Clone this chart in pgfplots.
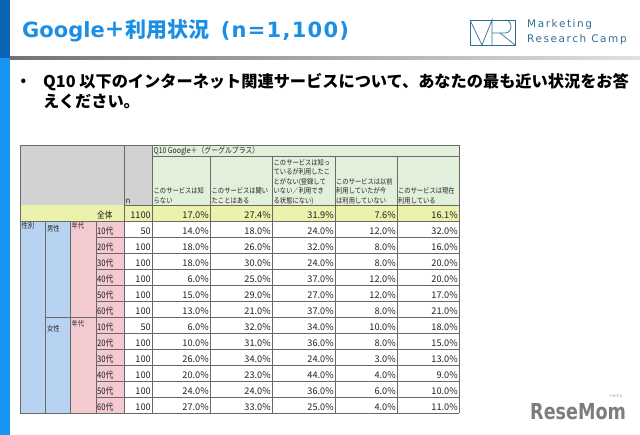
\documentclass[border=0pt]{standalone}
\usepackage{fontspec}
\usepackage{pgfplots}
\usepackage{pgfplotstable}
\pgfplotsset{compat=1.18}

\setmainfont{Noto Sans CJK JP}
\newfontfamily\dv{DejaVu Sans}
\newfontfamily\dvw[LetterSpace=6]{DejaVu Sans}
\newfontfamily\hdr[FakeStretch=0.86]{Noto Sans CJK JP}
\newfontfamily\lbl[FakeStretch=0.85]{Noto Sans CJK JP}
\newfontfamily\logofont[LetterSpace=15]{DejaVu Sans}
\newfontfamily\momfont[FakeStretch=0.8]{DejaVu Sans}

\definecolor{titleblue}{RGB}{28,143,228}
\definecolor{bardark}{RGB}{12,100,182}
\definecolor{barlight}{RGB}{22,150,242}
\definecolor{hdrgray}{RGB}{210,210,210}
\definecolor{hdrgreen}{RGB}{226,239,218}
\definecolor{totyellow}{RGB}{236,241,172}
\definecolor{sexblue}{RGB}{184,211,241}
\definecolor{agepink}{RGB}{242,202,208}
\definecolor{rule}{RGB}{105,105,105}
\definecolor{logoblue}{RGB}{48,110,150}
\definecolor{momgray}{RGB}{125,125,125}

% Q10 Google+ : share of answers (%) per group
\pgfplotstableread{
label n c1 c2 c3 c4 c5
全体 1100 17.0 27.4 31.9 7.6 16.1
10代 50 14.0 18.0 24.0 12.0 32.0
20代 100 18.0 26.0 32.0 8.0 16.0
30代 100 18.0 30.0 24.0 8.0 20.0
40代 100 6.0 25.0 37.0 12.0 20.0
50代 100 15.0 29.0 27.0 12.0 17.0
60代 100 13.0 21.0 37.0 8.0 21.0
10代 50 6.0 32.0 34.0 10.0 18.0
20代 100 10.0 31.0 36.0 8.0 15.0
30代 100 26.0 34.0 24.0 3.0 13.0
40代 100 20.0 23.0 44.0 4.0 9.0
50代 100 24.0 24.0 36.0 6.0 10.0
60代 100 27.0 33.0 25.0 4.0 11.0
}\svc

\pgfplotsset{
  cell/.style={draw=none, mark=none, point meta=explicit symbolic,
    nodes near coords={\pgfmathprintnumber[fixed,fixed zerofill,precision=1,assume math mode=true]{\pgfplotspointmeta}\%},
    every node near coord/.append style={anchor=base east, inner sep=0pt,
      font=\fontsize{9.2}{10}\selectfont, text=black!88}},
}
\newcommand\hd[3]{\node[anchor=base west, inner sep=0pt, text=black!85,
  font=\hdr\fontsize{7.3}{8}\selectfont] at (#1,#2) {#3};}
\newcommand\hl[3]{\draw[rule, line width=0.8pt] (#1,#3) -- (#2,#3);}
\newcommand\vl[3]{\draw[rule, line width=0.8pt] (#1,#2) -- (#1,#3);}

\begin{document}
\begin{tikzpicture}
\begin{axis}[
  width=640pt, height=435pt, scale only axis,
  xmin=0, xmax=640, ymin=0, ymax=435, y dir=reverse,
  hide axis, clip=false, at={(0,0)}, anchor=south west,
]
\coordinate (bl) at (0,435);
\coordinate (tr) at (640,0);

% page frame
\fill[bardark] (0,0) rectangle (10,58);
\fill[barlight] (0,58) rectangle (10,435);
\shade[left color=black!55, right color=black!12] (10,56.8) rectangle (640,59.2);

\node[anchor=base west, inner sep=0pt, text=titleblue,
  font=\fontsize{21}{24}\selectfont\bfseries] at (22,37.5)
  {{\dv Google}＋利用状況\hspace{11pt}{\dvw (n=1,100)}};

% logo
\draw[logoblue, line width=0.7pt] (470,20) rectangle (515,45);
\draw[logoblue, line width=0.7pt] (470,20) -- (482,45) -- (492,20) -- (492,45);
\draw[logoblue, line width=0.7pt] (492,33) -- (505,33) .. controls (513,33) and (513,20) .. (505,20);
\draw[logoblue, line width=0.7pt] (500,33) -- (515,45);
\node[anchor=base west, inner sep=0pt, text=logoblue,
  font=\logofont\fontsize{10.5}{12}\selectfont] at (527,28) {Marketing};
\node[anchor=base west, inner sep=0pt, text=logoblue,
  font=\logofont\fontsize{10.5}{12}\selectfont] at (527,42.5) {Research Camp};

% question
\node[inner sep=0pt, font=\fontsize{14}{14}\selectfont\bfseries] at (23.5,82) {•};
\node[anchor=base west, inner sep=0pt, font=\fontsize{16.2}{20}\selectfont\bfseries] at (43,87.5)
  {Q10 以下のインターネット関連サービスについて、あなたの最も近い状況をお答};
\node[anchor=base west, inner sep=0pt, font=\fontsize{16.2}{20}\selectfont\bfseries] at (43,107.5)
  {えください。};

% table cells
\fill[hdrgray] (20,145) rectangle (152,205);
\fill[hdrgreen] (152,145) rectangle (459,205);
\fill[totyellow] (20,205) rectangle (459,221);
\fill[sexblue] (20,221) rectangle (70,413);
\fill[agepink] (70,221) rectangle (124,413);

\hl{20}{459}{145}
\hl{152}{459}{156}
\hl{124}{459}{205}
\hl{20}{459}{221}
\hl{96}{459}{237}
\hl{96}{459}{253}
\hl{96}{459}{269}
\hl{96}{459}{285}
\hl{96}{459}{301}
\hl{45}{459}{317}
\hl{96}{459}{333}
\hl{96}{459}{349}
\hl{96}{459}{365}
\hl{96}{459}{381}
\hl{96}{459}{397}
\hl{20}{459}{413}
\vl{20}{145}{413}
\vl{45}{221}{413}
\vl{70}{221}{413}
\vl{96}{221}{413}
\vl{124}{145}{413}
\vl{152}{145}{413}
\vl{459}{145}{413}
\vl{210}{156}{413}
\vl{272}{156}{413}
\vl{335}{156}{413}
\vl{397}{156}{413}

% header texts
\node[anchor=base west, inner sep=0pt, text=black!85, font=\hdr\fontsize{8}{9}\selectfont]
  at (153.5,154) {Q10 Google＋（グーグルプラス）};
\node[anchor=base west, inner sep=0pt, text=black!85, font=\fontsize{8}{9}\selectfont]
  at (125.5,203.5) {n};
\hd{153.5}{194}{このサービスは知}
\hd{153.5}{203.5}{らない}
\hd{211.5}{194}{このサービスは聞い}
\hd{211.5}{203.5}{たことはある}
\hd{273.5}{165.5}{このサービスは知っ}
\hd{273.5}{175}{ているが利用したこ}
\hd{273.5}{184.5}{とがない(登録して}
\hd{273.5}{194}{いない／利用でき}
\hd{273.5}{203.5}{る状態にない)}
\hd{336}{184.5}{このサービスは以前}
\hd{336}{194}{利用していたが今}
\hd{336}{203.5}{は利用していない}
\hd{398}{194}{このサービスは現在}
\hd{398}{203.5}{利用している}
\hd{21.5}{229}{性別}
\hd{47}{232}{男性}
\hd{71.5}{229}{年代}
\hd{47}{332}{女性}
\hd{71.5}{327}{年代}

% row labels, n and shares
\addplot[draw=none, mark=none, point meta=explicit symbolic,
  nodes near coords={\pgfplotspointmeta},
  every node near coord/.append style={anchor=base west, inner sep=0pt,
    font=\lbl\fontsize{9}{10}\selectfont, text=black!88}]
  table[x expr=97, y expr=218.5+16*\coordindex, meta=label] {\svc};
\addplot[draw=none, mark=none, point meta=explicit symbolic,
  nodes near coords={\pgfplotspointmeta},
  every node near coord/.append style={anchor=base east, inner sep=0pt,
    font=\fontsize{9.2}{10}\selectfont, text=black!88}]
  table[x expr=151, y expr=218.5+16*\coordindex, meta=n] {\svc};
\addplot[cell] table[x expr=209, y expr=218.5+16*\coordindex, meta=c1] {\svc};
\addplot[cell] table[x expr=271, y expr=218.5+16*\coordindex, meta=c2] {\svc};
\addplot[cell] table[x expr=334, y expr=218.5+16*\coordindex, meta=c3] {\svc};
\addplot[cell] table[x expr=396, y expr=218.5+16*\coordindex, meta=c4] {\svc};
\addplot[cell] table[x expr=458, y expr=218.5+16*\coordindex, meta=c5] {\svc};

% site mark
\node[anchor=base west, inner sep=0pt, text=momgray,
  font=\momfont\fontsize{22}{24}\selectfont\bfseries] at (530,420) {ReseMom};
\node[anchor=base east, inner sep=0pt, text=momgray,
  font=\fontsize{3.5}{4}\selectfont] at (623,398) {リセマム};
\end{axis}
\pgfresetboundingbox
\path[use as bounding box] (bl) rectangle (tr);
\end{tikzpicture}
\end{document}
